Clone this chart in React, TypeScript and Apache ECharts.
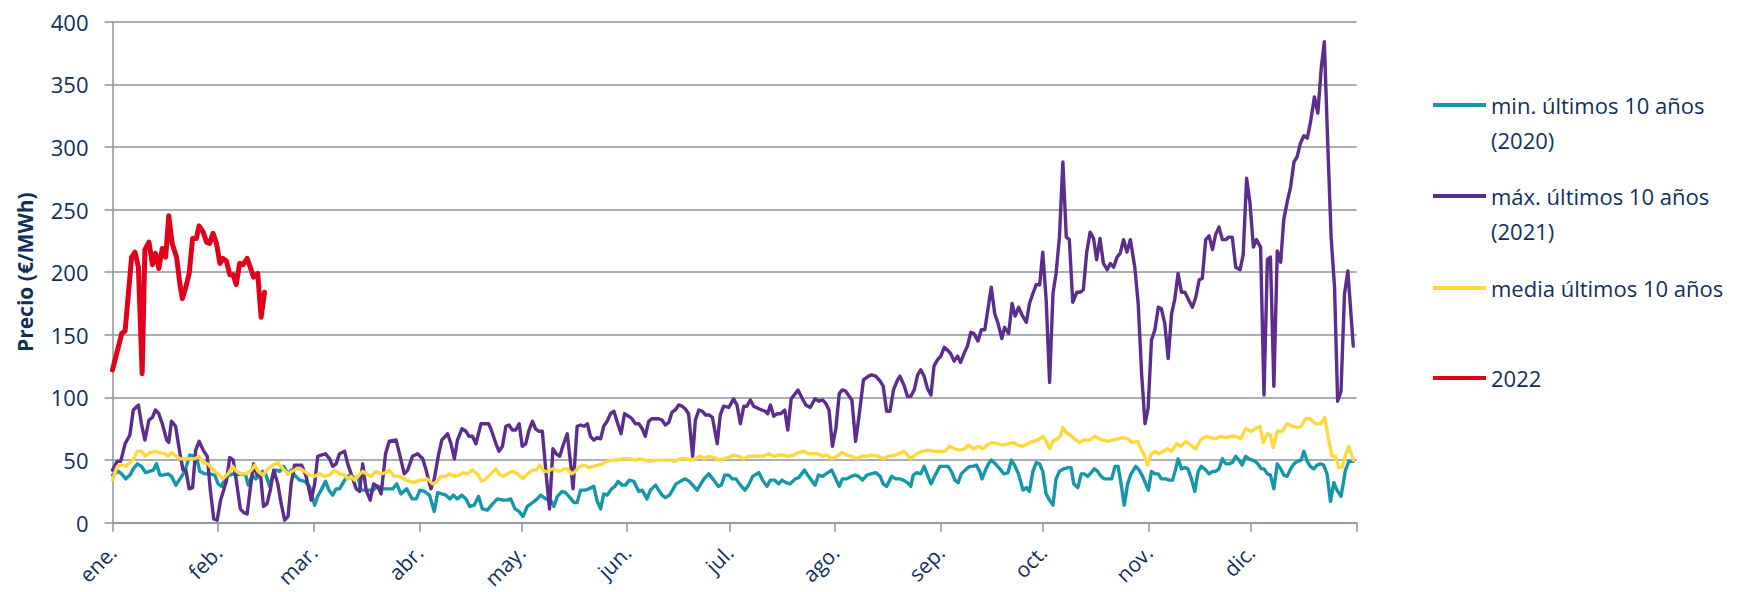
import React, { useEffect, useRef } from "react";
import * as echarts from "echarts";

// ---- Data (day of year, €/MWh) ----
const MONTH_STARTS = [0, 31, 59, 90, 120, 151, 181, 212, 243, 273, 304, 334];
const MONTH_LABELS = ["ene.", "feb.", "mar.", "abr.", "may.", "jun.", "jul.", "ago.", "sep.", "oct.", "nov.", "dic."];
const YEAR_END = 365;

const SERIES_NAMES = [
  "min. últimos 10 años (2020)",
  "máx. últimos 10 años (2021)",
  "media últimos 10 años",
  "2022",
];

const min2020: [number, number][] = [
  [0,38],[1.7,41],[2.7,39],[3.9,35],[5.1,38],[6.1,43],[7.3,47],[8.5,45],[9.7,40],[10.8,41],[12,42],[12.9,47],[13.9,38],[14.9,38],[16.3,39],[17.3,37],[18.6,30],[19.8,35],[21.2,41],[22.7,54],[24.6,53],[25.6,41],[27.1,39],[28.5,39],[30,38],[31,31],[32,29],[33.2,37],[34.4,38],[35.4,39],[36.3,38],[37.8,39],[39.1,38],[39.8,30],[41,38],[42,35],[43,37],[44,41],[44.9,39],[46.1,29],[47.1,39],[48,42],[49,41],[50.2,45],[51.5,39],[52.4,42],[53.4,38],[54.9,34],[56.4,33],[57.8,29],[59.3,14],[60.2,21],[61.2,26],[62.5,33],[63.5,26],[64.6,22],[65.6,27],[66.6,27],[68.1,34],[69,37],[70,38],[71,35],[72,37],[72.9,26],[74.4,26],[76.4,26],[77.8,29],[79.3,27],[80.7,27],[82.2,27],[83.4,31],[84.6,23],[86.3,27],[87.9,19],[89.1,19],[90.2,26],[91.5,25],[93,22],[94.4,9],[95.4,24],[96.6,23],[97.8,22],[99,19],[100,22],[101.2,19],[102.5,22],[103.7,19],[104.8,13],[106.1,14],[107.4,21],[108.5,11],[110,10],[111.5,15],[112.9,19],[114.6,18],[115.8,18],[116.8,19],[118.1,11],[119.3,9],[120.4,5],[121.7,13],[123.2,16],[124.6,19],[125.6,22],[127.1,19],[128.5,18],[129.5,13],[130.5,21],[131.9,25],[132.9,24],[133.9,21],[135.4,16],[136.3,16],[137.3,26],[138.6,26],[139.7,27],[141.2,29],[142.2,17],[143.2,11],[144.1,23],[145.1,22],[146.4,27],[147.4,29],[148.3,33],[149.5,30],[150.5,30],[151.6,34],[152.9,33],[154.4,25],[155.4,26],[156.8,19],[157.8,26],[159.3,30],[160.2,26],[161.2,22],[162.2,20],[163.4,22],[164.3,26],[165.3,31],[166.6,33],[168,35],[169.2,33],[170.2,30],[171.5,26],[172.4,30],[173.5,35],[174.9,39],[176.4,34],[177.7,29],[178.6,30],[179.6,38],[180.8,38],[181.8,35],[182.9,35],[184.2,30],[185.5,26],[186.6,30],[187.8,37],[189.6,40],[190.7,34],[192,29],[193,34],[194.2,34],[195.4,31],[196.4,34],[197.6,32],[198.8,31],[200.3,35],[201.3,36],[203,42],[204.2,37],[206.1,30],[207.1,38],[208.3,37],[209.3,39],[211,42],[212.2,35],[213.2,29],[214.1,35],[215.4,35],[216.7,37],[217.9,38],[218.8,37],[220,34],[221.3,38],[222.5,39],[223.9,40],[225.2,37],[226.1,31],[227.1,29],[228.6,37],[229.8,35],[231,35],[232,34],[233.2,32],[234.2,29],[234.9,38],[235.9,40],[237.1,39],[238.1,45],[239.1,38],[240.1,31],[241.2,37],[242.7,45],[244,45],[245.1,45],[246.1,41],[247.1,34],[248.1,32],[249,39],[250.5,43],[251.5,45],[252.5,45],[253.4,46],[254.4,41],[255.1,35],[256.1,42],[257,47],[257.8,50],[259,47],[260.3,43],[261.5,39],[262.7,40],[263.7,50],[264.6,46],[265.8,39],[267.1,26],[268.1,28],[269,25],[270,41],[271,48],[272,47],[272.9,41],[273.9,23],[274.9,18],[275.9,14],[276.8,35],[277.8,41],[279.1,43],[280.3,44],[281.2,44],[282,31],[283.2,28],[284.2,39],[285.1,39],[286.1,37],[287.1,40],[288,43],[289,41],[290,37],[291,35],[292.1,35],[293.1,35],[294.1,45],[295,45],[296,29],[296.8,14],[297.8,31],[298.8,39],[300.2,45],[301.2,42],[302.2,37],[303.1,31],[303.9,26],[304.8,41],[305.8,39],[306.8,39],[307.7,35],[309,35],[310,34],[311,34],[311.9,43],[312.6,51],[313.6,43],[314.6,44],[315.5,43],[316.5,35],[317.5,25],[318.5,41],[319.4,45],[320.4,43],[321.7,39],[322.7,41],[323.6,41],[324.6,43],[325.6,51],[326.6,47],[327.5,47],[328.5,48],[329.5,53],[330.5,50],[331.4,46],[332.4,53],[333.4,51],[334.4,50],[335.3,49],[336.3,46],[337,43],[337.8,43],[338.8,39],[339.7,38],[340.7,27],[341.7,47],[342.7,43],[343.6,38],[344.6,37],[345.6,43],[346.6,47],[347.5,49],[348.7,50],[349.5,57],[350.5,49],[351.4,45],[352.4,43],[353.4,46],[354.4,47],[355.3,46],[356.3,39],[357.3,17],[358.3,32],[359.2,26],[360.4,21],[361.7,42],[362.7,49],[364,49],
];

const max2021: [number, number][] = [
  [0,42],[1.4,49],[2.4,49],[3.7,63],[5.1,70],[6.1,90],[7.6,94],[8.5,79],[9.5,66],[10.7,82],[11.7,84],[12.6,90],[13.6,87],[14.6,79],[15.9,66],[16.5,64],[17.3,81],[18.5,77],[19.8,55],[20.7,42],[21.5,42],[22.5,27],[23.5,28],[24.4,58],[25.4,65],[26.6,58],[27.8,53],[28.7,26],[29.7,3],[30.7,2],[31.7,18],[33.4,33],[34.4,52],[35.4,50],[36.3,34],[37.5,11],[38.5,8],[39.5,7],[40.4,27],[41.4,47],[42.4,38],[43.4,39],[44.3,13],[45.3,15],[46.3,26],[47.3,42],[48.5,31],[49.5,15],[50.5,2],[51.5,5],[52.4,31],[53.4,46],[54.4,46],[55.5,46],[56.8,37],[58.3,18],[59.3,31],[60.2,53],[61.2,54],[62.5,55],[63.7,51],[64.6,45],[65.6,47],[66.6,55],[68.1,57],[69,47],[70,39],[71.5,27],[72.5,25],[73.4,47],[74.4,26],[75.6,18],[76.6,31],[77.8,29],[78.8,23],[80.1,55],[81.2,65],[83.2,66],[84.2,55],[85.6,39],[86.6,42],[88,53],[89.5,55],[91,51],[92,42],[93.4,27],[94.4,35],[95.7,55],[96.6,66],[98.3,71],[99.3,63],[100.3,51],[101.2,66],[102.5,75],[103.7,73],[104.6,69],[105.6,69],[106.6,63],[108.1,79],[109,79],[110.3,79],[111,75],[112.5,63],[113.4,57],[114.4,61],[115.4,77],[116.3,78],[117.3,74],[118.3,74],[119.3,79],[120.2,61],[121.2,63],[122.2,74],[123.2,81],[124.1,75],[125.1,73],[126.1,73],[127.1,42],[128.2,11],[129.2,59],[130.2,55],[131.2,53],[132.1,61],[133.4,71],[134.4,47],[135.1,27],[136.3,77],[137.3,78],[138.3,77],[139.3,79],[140.2,69],[141.2,66],[142.2,68],[143.2,67],[144.1,77],[145.1,81],[146.1,87],[147.1,89],[148,81],[149.2,71],[150.2,87],[151.4,85],[152.4,83],[153.4,79],[154.4,79],[155.4,75],[156.3,69],[157.3,81],[158.3,83],[159.3,83],[160.2,83],[161.2,82],[162.2,78],[163.2,80],[164.1,88],[165.1,90],[166.1,94],[167.1,93],[168,91],[169,87],[170.2,53],[171,82],[172,90],[173,89],[174,86],[175,86],[176,84],[177.4,63],[178.3,86],[179.3,93],[180.8,92],[182.2,99],[183.2,94],[184.2,79],[185.2,93],[186.1,93],[187.1,98],[188.1,93],[189.6,91],[190.5,90],[191.5,89],[192.2,87],[193,94],[194,85],[195,87],[196,87],[197.2,90],[198.1,74],[199.1,99],[200.3,103],[201.1,106],[202.2,100],[203.4,94],[204.7,92],[206.1,99],[207.3,97],[208.3,98],[209.3,95],[210.2,90],[211.2,61],[212.2,75],[213.2,103],[214.1,106],[215.1,105],[216.9,98],[218,65],[219,85],[220.3,114],[221.8,117],[222.7,118],[223.9,117],[225.2,113],[226.1,109],[227.1,89],[228.1,89],[229.1,106],[230.3,114],[231,117],[232.3,109],[233.2,101],[234.2,101],[235.2,106],[236.2,118],[237.1,122],[238.1,117],[239.1,107],[240.1,102],[241,125],[242,130],[243,133],[244,140],[244.9,138],[245.9,135],[246.9,129],[247.9,133],[248.8,128],[249.8,135],[250.8,141],[251.8,152],[252.7,151],[253.9,145],[254.9,154],[255.9,154],[256.8,170],[257.8,188],[258.8,167],[259.8,159],[260.9,147],[261.7,156],[262.9,151],[263.9,175],[264.8,165],[265.8,172],[266.8,166],[268.1,160],[269,175],[270,183],[271,190],[272,190],[272.9,216],[273.9,178],[274.9,112],[275.9,183],[276.8,199],[277.8,228],[278.8,288],[279.8,228],[280.7,226],[281.7,176],[282.9,184],[283.9,184],[284.8,186],[285.8,216],[286.8,232],[287.8,227],[288.7,210],[289.7,227],[290.7,207],[291.8,202],[292.7,207],[293.7,204],[294.7,212],[295.6,215],[296.6,226],[297.6,216],[298.6,226],[299.9,204],[300.9,175],[301.9,119],[302.9,79],[303.8,91],[304.8,146],[305.8,154],[306.8,172],[307.7,171],[308.7,159],[309.7,131],[310.7,167],[311.6,178],[312.6,199],[313.6,184],[314.6,184],[315.5,179],[316.8,172],[317.8,180],[318.8,194],[319.7,195],[320.7,226],[321.7,229],[322.7,218],[323.6,230],[324.6,236],[325.6,226],[326.6,226],[327.5,228],[328.5,228],[329.5,204],[330.8,202],[331.7,214],[332.7,275],[333.7,255],[334.7,220],[335.6,226],[336.8,220],[337.8,102],[338.8,210],[339.7,212],[340.7,109],[341.7,217],[342.7,208],[343.6,242],[344.6,256],[345.6,268],[346.6,288],[347.5,292],[348.5,303],[349.5,309],[350.5,307],[351.4,319],[352.6,340],[353.6,327],[354.6,363],[355.5,384],[356.5,303],[357.5,228],[358.5,188],[359.4,97],[360.4,105],[361.4,182],[362.4,201],[364,141],
];

const mean10y: [number, number][] = [
  [0,34],[1.4,45],[2.7,46],[3.9,45],[5.1,48],[6.1,50],[7.3,57],[8.5,57],[9.7,53],[11,56],[12.4,57],[13.9,56],[15.4,55],[16.3,53],[17.3,56],[18.6,53],[19.8,51],[21.2,51],[22.7,51],[24.1,51],[25.4,53],[26.6,48],[28,47],[29.5,42],[31,39],[32.4,35],[33.9,39],[35.2,45],[36.3,41],[37.8,39],[39.3,39],[40.7,42],[41.7,46],[42.7,41],[44.1,38],[45.6,43],[47.1,46],[48.5,48],[50,43],[51.5,39],[52.7,41],[53.9,43],[55.2,43],[56.3,41],[57.8,38],[59.3,37],[60.7,39],[62.2,37],[63.7,38],[65.1,42],[66.6,39],[68.1,38],[69,35],[70,37],[71,34],[72.3,38],[73.4,41],[74.4,39],[75.9,37],[77.3,41],[78.8,39],[80.1,40],[81.2,42],[82.7,37],[84.1,37],[85.6,35],[87.1,33],[88.5,32],[90,34],[91.5,34],[92.4,35],[93.9,31],[94.9,32],[96.3,37],[97.8,37],[98.8,39],[100.3,37],[101.7,38],[102.9,40],[104.1,39],[105.6,42],[107.1,39],[108.3,33],[109.5,35],[111,39],[112.5,43],[113.4,39],[114.6,37],[115.8,39],[117.3,41],[118.8,39],[120.4,35],[121.7,39],[123.2,42],[124.3,42],[125.3,46],[126.6,41],[127.8,41],[129,43],[130.2,42],[131.2,41],[132.4,43],[133.4,43],[134.7,39],[135.8,41],[137,45],[138.6,46],[139.7,44],[141.2,45],[142.5,46],[143.8,47],[145.1,49],[146.6,50],[148,50],[149.5,51],[150.7,51],[151.9,51],[153.4,50],[154.6,51],[156.3,50],[157.8,49],[159.3,50],[160.7,50],[162.2,50],[163.6,50],[165.1,49],[166.6,51],[168,51],[169.5,50],[171,51],[172.4,53],[173.7,51],[174.9,53],[176.4,52],[177.9,50],[179.3,51],[180.8,52],[182.2,54],[183.7,53],[185.2,51],[186.6,53],[188.1,53],[189.6,53],[191,53],[192.5,55],[194,53],[195.4,54],[196.9,54],[198.3,53],[199.8,54],[201.3,56],[202.7,57],[204.2,55],[205.7,55],[206.9,55],[208.3,53],[209.6,54],[211,51],[212.5,53],[214,56],[215.4,54],[216.9,53],[218.3,51],[219.8,53],[221.3,53],[222.7,54],[224.7,53],[226.1,51],[227.6,53],[229.6,54],[230.5,55],[232.3,57],[234.2,51],[235.9,55],[237.5,57],[239.3,58],[241.2,57],[242.7,57],[244.2,57],[245.6,61],[247.1,59],[248.5,58],[250,59],[251.2,62],[252.7,59],[254.1,61],[255.4,59],[256.6,62],[258,64],[259.8,63],[261.2,62],[262.7,63],[264.2,64],[265.6,62],[267.1,61],[268.5,63],[270,65],[271.5,66],[272.9,69],[273.9,65],[274.9,59],[275.9,65],[277.1,67],[278.1,69],[278.8,76],[279.8,72],[281,70],[282.2,67],[283.7,64],[285.1,66],[286.6,66],[288.1,69],[289.5,67],[290.5,66],[291.9,65],[293.4,66],[294.9,67],[296.3,68],[297.8,67],[299.2,64],[300.7,65],[301.7,59],[302.7,54],[303.6,46],[304.6,54],[305.8,57],[307,55],[308.3,57],[309.5,59],[310.7,57],[312.2,63],[313.4,61],[314.9,65],[316.3,62],[317.8,59],[319.2,66],[320.7,69],[322.2,68],[323.6,67],[325.1,69],[326.6,68],[328,69],[329.5,69],[331,67],[332.4,75],[333.9,73],[335.3,75],[336.6,77],[337.6,64],[338.8,71],[339.7,70],[340.5,60],[341.7,73],[343.1,73],[344.6,79],[346.1,77],[347.5,76],[348.7,77],[350,83],[351.4,83],[352.9,79],[354.4,79],[355.6,84],[356.8,66],[357.8,53],[358.8,53],[359.7,44],[360.7,44],[361.7,54],[362.7,61],[364,50],
];

const y2022: [number, number][] = [
  [0,122],[2.7,151],[3.7,153],[5.6,212],[6.6,216],[7.6,204],[8.7,119],[9.5,218],[10.7,224],[11.7,206],[12.6,215],[13.6,203],[14.6,219],[15.6,212],[16.5,245],[17.5,223],[18.8,212],[19.8,190],[20.5,179],[21.5,188],[22.5,199],[23.5,227],[24.6,227],[25.4,237],[26.6,232],[27.6,224],[28.5,223],[29.5,231],[30.5,223],[31.5,207],[32.4,211],[33.4,209],[34.4,198],[35.4,198],[36.3,190],[37.3,207],[38.3,206],[39.5,211],[40.4,204],[41.4,196],[42.6,199],[43.6,164],[44.6,184],
];

// ---- Styles ----
const FONT = "'Open Sans', 'Noto Sans', sans-serif";
const TEXT = "#10305A";
const GRID = "#8E939B";
const COLORS = ["#1497A8", "#5C2D8C", "#FFD83D", "#E3001B"];

export default function App() {
  const ref = useRef<HTMLDivElement>(null);

  useEffect(() => {
    if (!ref.current) return;
    const chart = echarts.init(ref.current, undefined, { renderer: "svg" });

    // Two-line names get a leading empty line so the first text line sits on the icon.
    const legendFmt = (name: string) =>
      name.includes(" (") ? "\n" + name.replace(" (", "\n(") : name;
    const mkLegend = (i: number, top: number) => ({
      data: [SERIES_NAMES[i]],
      left: 1433,
      top,
      orient: "vertical",
      icon: "rect",
      itemWidth: 53,
      itemHeight: 4,
      selectedMode: false,
      padding: 0,
      formatter: legendFmt,
      textStyle: {
        fontFamily: FONT,
        fontSize: 22,
        color: TEXT,
        lineHeight: 35,
      },
    });

    const datasets = [min2020, max2021, mean10y, y2022];
    const widths = [3.4, 3.4, 3.4, 5];

    chart.setOption({
      animation: false,
      backgroundColor: "#ffffff",
      textStyle: { fontFamily: FONT },
      grid: {
        left: 112.5,
        right: 382.3,
        top: 21.7,
        bottom: 69.3,
        containLabel: false,
        outerBoundsMode: "none",
      },
      legend: [
        mkLegend(0, 52.5),
        mkLegend(1, 143.5),
        mkLegend(2, 270.5),
        mkLegend(3, 360.5),
      ],
      xAxis: {
        type: "value",
        min: 0,
        max: YEAR_END,
        axisLine: { show: true, lineStyle: { color: GRID, width: 1.5 } },
        axisTick: {
          show: true,
          customValues: [...MONTH_STARTS, YEAR_END],
          length: 9,
          lineStyle: { color: GRID, width: 1.5 },
        },
        axisLabel: {
          customValues: MONTH_STARTS,
          formatter: (v: number) => MONTH_LABELS[MONTH_STARTS.indexOf(Math.round(v))] ?? "",
          rotate: 45,
          margin: 26,
          fontFamily: FONT,
          fontSize: 21,
          lineHeight: 22,
          color: TEXT,
        },
        splitLine: { show: false },
      },
      yAxis: {
        type: "value",
        min: 0,
        max: 400,
        interval: 50,
        name: "Precio (€/MWh)",
        nameLocation: "middle",
        nameGap: 77,
        nameTextStyle: { fontFamily: FONT, fontWeight: "bold", fontSize: 21, color: TEXT },
        axisLine: { show: true, lineStyle: { color: GRID, width: 1.5 } },
        axisTick: { show: true, length: 8, lineStyle: { color: GRID, width: 1.5 } },
        axisLabel: { margin: 24, fontFamily: FONT, fontSize: 22, color: TEXT },
        splitLine: { show: true, lineStyle: { color: GRID, width: 1.5 } },
      },
      series: datasets.map((d, i) => ({
        name: SERIES_NAMES[i],
        type: "line",
        data: d,
        showSymbol: false,
        symbol: "none",
        smooth: false,
        color: COLORS[i],
        lineStyle: { color: COLORS[i], width: widths[i], join: "round", cap: "round" },
        z: 2 + i,
        emphasis: { disabled: true },
      })),
    });

    return () => chart.dispose();
  }, []);

  return (
    <div
      ref={ref}
      style={{ position: "fixed", left: 0, top: 0, width: 1739, height: 592, background: "#fff" }}
    />
  );
}
